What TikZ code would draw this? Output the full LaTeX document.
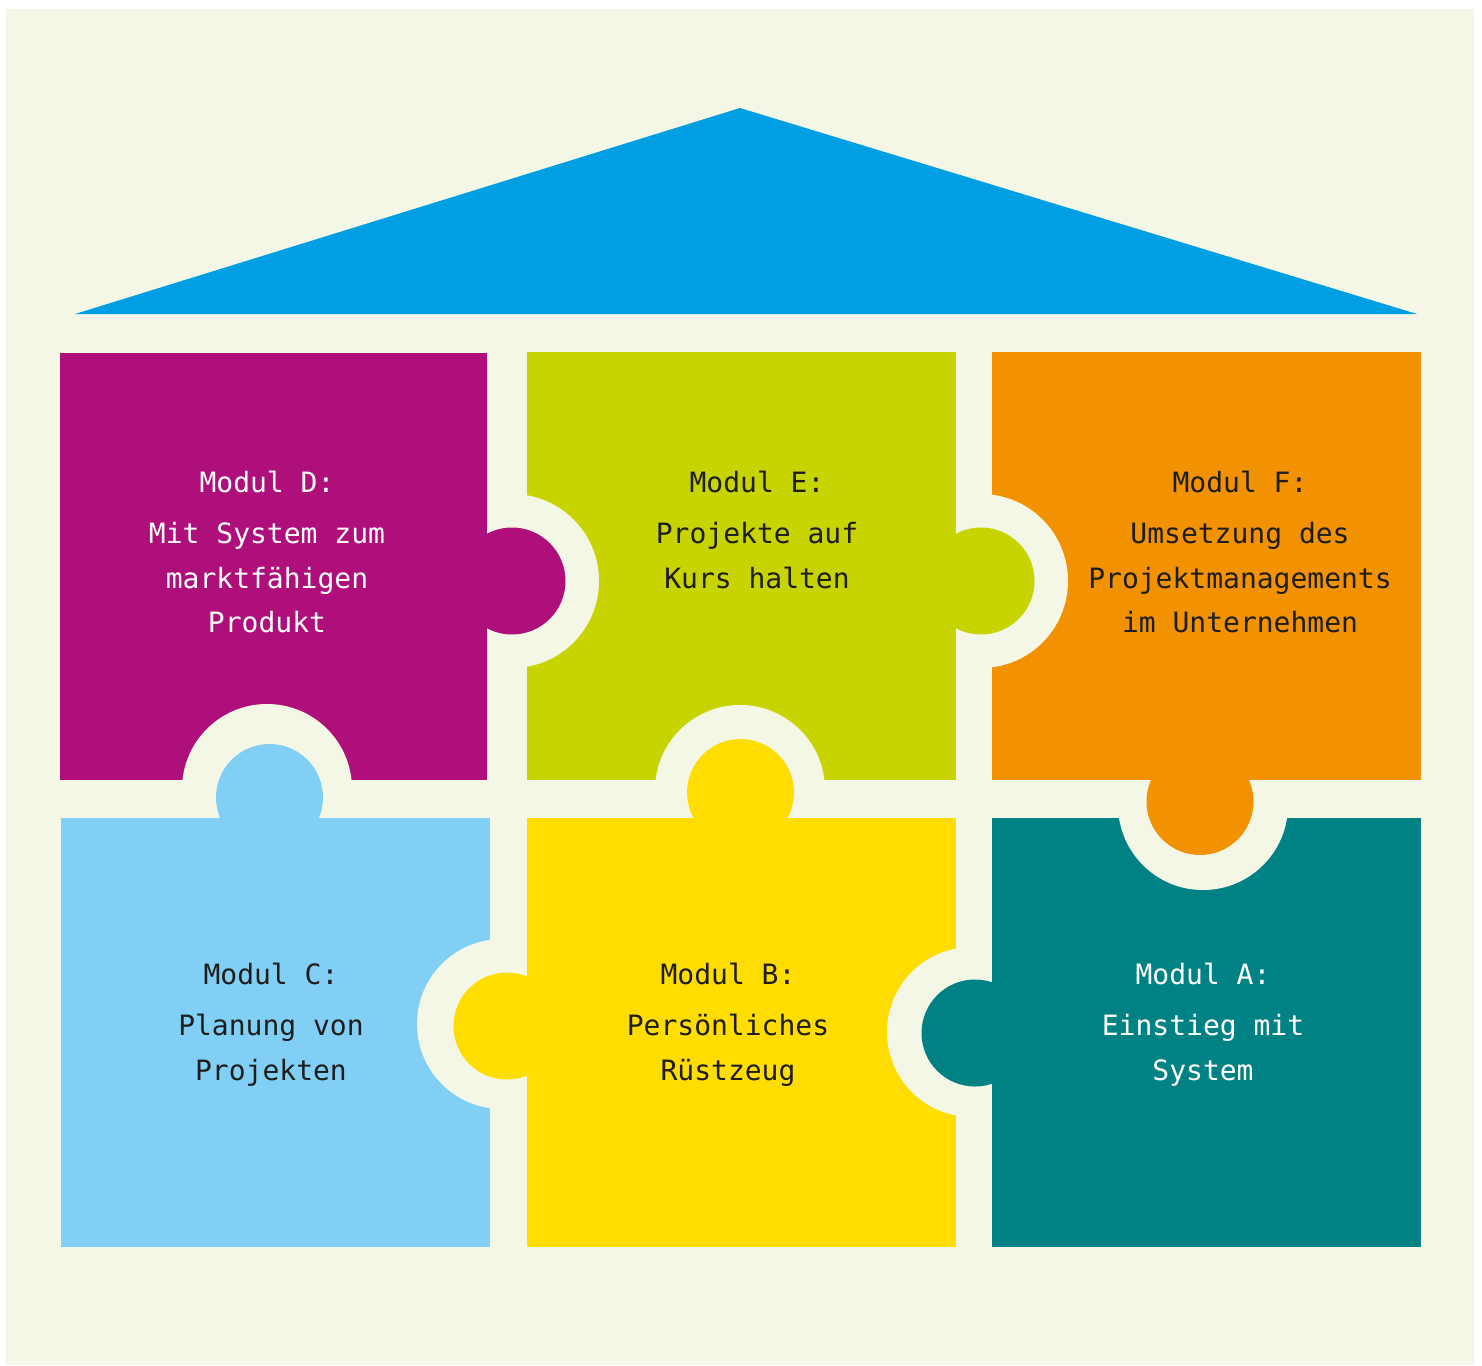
\documentclass[tikz,border=0pt]{standalone}
\usepackage{fontspec}
\newfontfamily\modfont{DejaVu Sans Mono}
\newcommand{\ws}{\hspace{0.602em}}
\definecolor{bgcream}{RGB}{245,247,230}
\definecolor{roofblue}{RGB}{0,159,227}
\definecolor{cD}{RGB}{174,15,122}
\definecolor{cE}{RGB}{200,212,0}
\definecolor{cF}{RGB}{243,146,0}
\definecolor{cC}{RGB}{130,207,245}
\definecolor{cB}{RGB}{255,221,0}
\definecolor{cA}{RGB}{0,130,133}
\definecolor{darktxt}{RGB}{29,29,27}
\begin{document}
\begin{tikzpicture}[x=1pt,y=-1pt,
  txt/.style={font=\modfont\fontsize{28}{44.5}\selectfont, text width=460pt, align=center, inner sep=0pt, anchor=base},
  hole/.style={fill=bgcream}]
\useasboundingbox (0,0) rectangle (1482,1365);
\fill[white] (0,0) rectangle (1482,1365);
\fill[bgcream] (6,9) rectangle (1474,1365);
% roof
\fill[roofblue] (75,314) -- (740,108) -- (1417,314) -- cycle;
% piece bodies
\fill[cD] (60,353) rectangle (487,780);
\fill[cE] (527,352) rectangle (956,780);
\fill[cF] (992,352) rectangle (1421,780);
\fill[cC] (61,818) rectangle (490,1247);
\fill[cB] (527,818) rectangle (956,1247);
\fill[cA] (992,818) rectangle (1421,1247);
% holes
\begin{scope}
  \clip (527,352) rectangle (956,780);
  \fill[hole] (512,581) circle (87pt);
  \fill[hole] (740,790) circle (85pt);
\end{scope}
\begin{scope}
  \clip (992,352) rectangle (1421,780);
  \fill[hole] (981,581) circle (87pt);
\end{scope}
\begin{scope}
  \clip (60,353) rectangle (487,780);
  \fill[hole] (267,789) circle (85pt);
\end{scope}
\begin{scope}
  \clip (992,818) rectangle (1421,1247);
  \fill[hole] (1203,805) circle (85pt);
\end{scope}
\begin{scope}
  \clip (527,818) rectangle (956,1247);
  \fill[hole] (972,1032) circle (85pt);
\end{scope}
\begin{scope}
  \clip (61,818) rectangle (490,1247);
  \fill[hole] (502,1024) circle (85pt);
\end{scope}
% tabs
\fill[cD] (512,581) circle (53.5pt);
\fill[cE] (981,581) circle (53.5pt);
\fill[cC] (269.5,797.5) circle (53.5pt);
\fill[cB] (740.5,792.5) circle (53.5pt);
\fill[cF] (1200,801.5) circle (53.5pt);
\fill[cB] (507,1026) circle (53.5pt);
\fill[cA] (975,1033) circle (53.5pt);
% texts
\node[txt, text=white] (tD) at (267,492) {Modul\ws D:\\[7pt]Mit\ws System\ws zum\\marktfähigen\\Produkt};
\node[txt, text=darktxt] (tE) at (757,492) {Modul\ws E:\\[7pt]Projekte\ws auf\\Kurs\ws halten};
\node[txt, text=darktxt] (tF) at (1240,492) {Modul\ws F:\\[7pt]Umsetzung\ws des\\Projektmanagements\\im\ws Unternehmen};
\node[txt, text=darktxt] (tC) at (271,984) {Modul\ws C:\\[7pt]Planung\ws von\\Projekten};
\node[txt, text=darktxt] (tB) at (728,984) {Modul\ws B:\\[7pt]Persönliches\\Rüstzeug};
\node[txt, text=white] (tA) at (1203,984) {Modul\ws A:\\[7pt]Einstieg\ws mit\\System};
\end{tikzpicture}
\end{document}
